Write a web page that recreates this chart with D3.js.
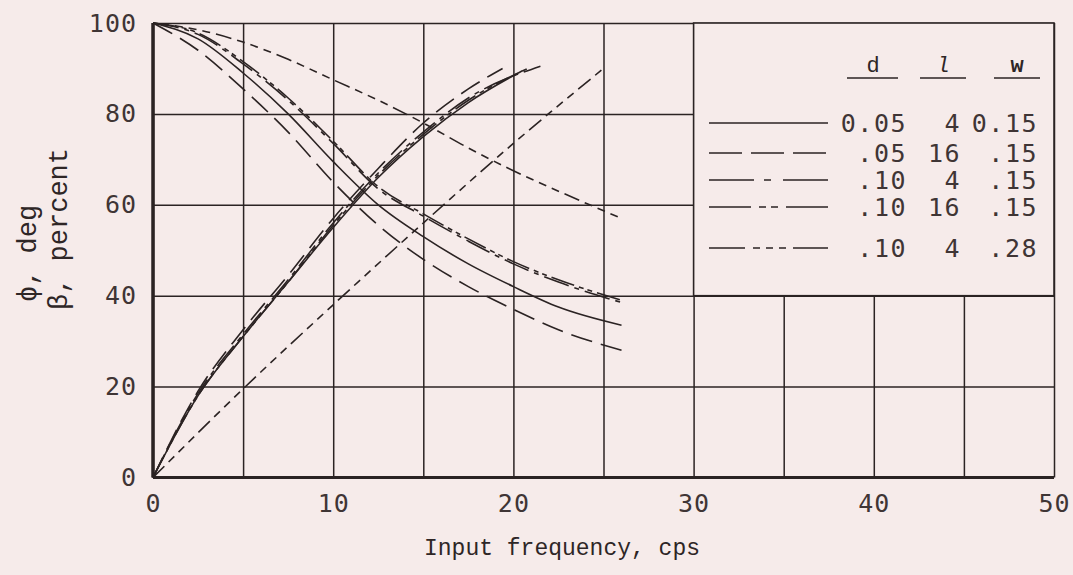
<!DOCTYPE html>
<html>
<head>
<meta charset="utf-8">
<script src="https://cdn.jsdelivr.net/npm/d3@7"></script>
<style>
  body { margin: 0; background: #f6ebea; }
  .tick text { font-family: "DejaVu Sans Mono", monospace; fill: #3f3535; }
  .mono { font-family: "Liberation Mono", "Courier New", monospace; fill: #2e2626; }
</style>
</head>
<body>
<svg id="chart"></svg>
<script>
// x: input frequency (cps); y: phi (deg) rising, beta (percent) falling
const X_TICKS = [0, 5, 10, 15, 20, 25, 30, 35, 40, 45, 50];
const X_LABELS = [0, 10, 20, 30, 40, 50];
const Y_TICKS = [0, 20, 40, 60, 80, 100];

// one entry per legend row: d, l, w
const SERIES_D = ["0.05", ".05", ".10", ".10", ".10"];
const SERIES_L = ["4", "16", "4", "16", "4"];
const SERIES_W = ["0.15", ".15", ".15", ".15", ".28"];

// phase curves, phi (deg)
const PHI = [
  [[0, 0], [2.5, 18], [5, 31], [7.5, 43], [10, 55], [12.5, 66], [15, 75], [17.5, 82.5], [20.5, 89.5]],
  [[0, 0], [2.5, 19], [5, 32.5], [7.5, 44.5], [10, 57], [12.5, 68], [15, 78], [17.5, 85.5], [19.4, 90]],
  [[0, 0], [2.5, 18.5], [5, 31.5], [7.5, 43.5], [10, 56], [12.5, 67], [15, 76], [17.5, 83.5], [21.5, 90.5]],
  [[0, 0], [2.5, 18], [5, 31], [7.5, 43], [10, 55.5], [12.5, 66.5], [15, 75.5], [17.5, 83], [20.8, 90]],
  [[0, 0], [5, 19.5], [10, 38], [15, 56], [20, 73.5], [25, 90]],
];

// amplitude curves, beta (percent)
const BETA = [
  [[0, 100], [2.5, 96.5], [5, 89], [7.5, 80], [10, 69.5], [12.5, 60], [15, 53], [17.5, 47], [20, 42], [22.5, 37.5], [26, 33.5]],
  [[0, 100], [2.5, 94], [5, 85.5], [7.5, 76], [10, 65], [12.5, 55.5], [15, 48], [17.5, 42], [20, 37], [22.5, 32.5], [26, 28]],
  [[0, 100], [2.5, 97.5], [5, 91], [7.5, 83], [10, 73.5], [12.5, 63.5], [15, 57.5], [17.5, 52], [20, 47], [22.5, 43], [26, 38.5]],
  [[0, 100], [2.5, 97.8], [5, 91.5], [7.5, 83.5], [10, 74], [12.5, 64], [15, 58], [17.5, 52.5], [20, 47.5], [22.5, 43.5], [26, 39]],
  [[0, 100], [2.5, 98.5], [5, 95.8], [7.5, 92], [10, 87.5], [12.5, 83], [15, 78], [17.5, 72.5], [20, 67.5], [22.5, 63], [26, 57]],
];

const W = 1073, H = 575;
const margin = { top: 23, right: 19, bottom: 97.5, left: 153 };
const ink = "#2b2323";

// dash styles for plot curves and the legend samples
const plotDash = [null, "22,9", "26,6,5,6", "24,5,5,4,5,5", "16,6,8,6,8,6,8,6"];
const legendDash = [null, "33,9", "45,10,7,12", "42,8,7,5,7,8", "36,8,7,6,7,6,7,7"];

const svg = d3.select("#chart").attr("width", W).attr("height", H);
svg.append("rect").attr("width", W).attr("height", H).attr("fill", "#f6ebea");

const x = d3.scaleLinear().domain([0, 50]).range([margin.left, W - margin.right]);
const y = d3.scaleLinear().domain([0, 100]).range([H - margin.bottom, margin.top]);
const plotW = x(50) - x(0), plotH = y(0) - y(100);

// grid via axes
const xAxis = d3.axisBottom(x)
  .tickValues(X_TICKS)
  .tickSize(-plotH)
  .tickPadding(12)
  .tickFormat(d => X_LABELS.includes(d) ? d : "");
const yAxis = d3.axisLeft(y)
  .tickValues(Y_TICKS)
  .tickSize(-plotW)
  .tickPadding(16);

svg.append("g")
  .attr("transform", `translate(0,${y(0)})`)
  .call(xAxis)
  .call(g => g.select(".domain").remove())
  .call(g => g.selectAll(".tick line").attr("stroke", ink).attr("stroke-width", 1.5))
  .call(g => g.selectAll(".tick text").attr("font-size", 25).attr("letter-spacing", 1).attr("dy", "0.9em"));

svg.append("g")
  .attr("transform", `translate(${x(0)},0)`)
  .call(yAxis)
  .call(g => g.select(".domain").remove())
  .call(g => g.selectAll(".tick line").attr("stroke", ink).attr("stroke-width", 1.5))
  .call(g => g.selectAll(".tick text").attr("font-size", 25).attr("letter-spacing", 1));

// heavy axis lines
svg.append("line").attr("x1", x(0)).attr("x2", x(50)).attr("y1", y(0)).attr("y2", y(0))
  .attr("stroke", ink).attr("stroke-width", 3);
svg.append("line").attr("x1", x(0)).attr("x2", x(0)).attr("y1", y(0)).attr("y2", y(100))
  .attr("stroke", ink).attr("stroke-width", 3.5);

// legend box covers the grid from x 30..50, y 40..100
const lg = svg.append("g");
lg.append("rect")
  .attr("x", x(30)).attr("y", y(100))
  .attr("width", x(50) - x(30)).attr("height", y(40) - y(100))
  .attr("fill", "#f6ebea").attr("stroke", ink).attr("stroke-width", 1.6);

const colD = 907, colL = 961, colW = 1038;
const headers = [
  { t: "d", cx: 873, x0: 847, x1: 898, style: "normal", weight: "normal" },
  { t: "l", cx: 943, x0: 920, x1: 966, style: "italic", weight: "normal" },
  { t: "w", cx: 1017, x0: 994, x1: 1040, style: "normal", weight: "bold" },
];
headers.forEach(h => {
  lg.append("text").attr("class", "mono")
    .attr("x", h.cx).attr("y", 72)
    .attr("text-anchor", "middle")
    .attr("font-size", 22)
    .attr("font-style", h.style)
    .attr("font-weight", h.weight)
    .attr("font-family", h.t === "l" ? "Liberation Serif, serif" : null)
    .text(h.t);
  lg.append("line").attr("x1", h.x0).attr("x2", h.x1).attr("y1", 78).attr("y2", 78)
    .attr("stroke", ink).attr("stroke-width", 1.5);
});

const rowY = [123, 153, 180, 207, 248];
SERIES_D.forEach((d, i) => {
  const ry = rowY[i];
  lg.append("line")
    .attr("x1", 709).attr("x2", 828).attr("y1", ry).attr("y2", ry)
    .attr("stroke", ink).attr("stroke-width", 1.6)
    .attr("stroke-dasharray", legendDash[i]);
  [[d, colD], [SERIES_L[i], colL], [SERIES_W[i], colW]].forEach(([t, cx]) => {
    lg.append("text")
      .attr("x", cx).attr("y", ry)
      .attr("text-anchor", "end")
      .attr("dominant-baseline", "central")
      .attr("font-family", "DejaVu Sans Mono, monospace")
      .attr("font-size", 25)
      .attr("letter-spacing", 1.5)
      .attr("fill", "#3f3535")
      .text(t);
  });
});

// curves
const line = d3.line()
  .x(d => x(d[0]))
  .y(d => y(d[1]))
  .curve(d3.curveMonotoneX);

const curves = svg.append("g").attr("fill", "none").attr("stroke", ink).attr("stroke-width", 1.6);
PHI.forEach((pts, i) => {
  curves.append("path").attr("d", line(pts)).attr("stroke-dasharray", plotDash[i]);
});
BETA.forEach((pts, i) => {
  curves.append("path").attr("d", line(pts)).attr("stroke-dasharray", plotDash[i]);
});

// axis titles
svg.append("text").attr("class", "mono")
  .attr("x", 562).attr("y", 555)
  .attr("text-anchor", "middle")
  .attr("font-size", 23)
  .text("Input frequency, cps");

svg.append("text").attr("class", "mono")
  .attr("transform", "translate(36,302) rotate(-90)")
  .attr("font-size", 27)
  .text("\u03d5, deg");
svg.append("text").attr("class", "mono")
  .attr("transform", "translate(67,310) rotate(-90)")
  .attr("font-size", 27)
  .text("\u03b2, percent");
</script>
</body>
</html>
